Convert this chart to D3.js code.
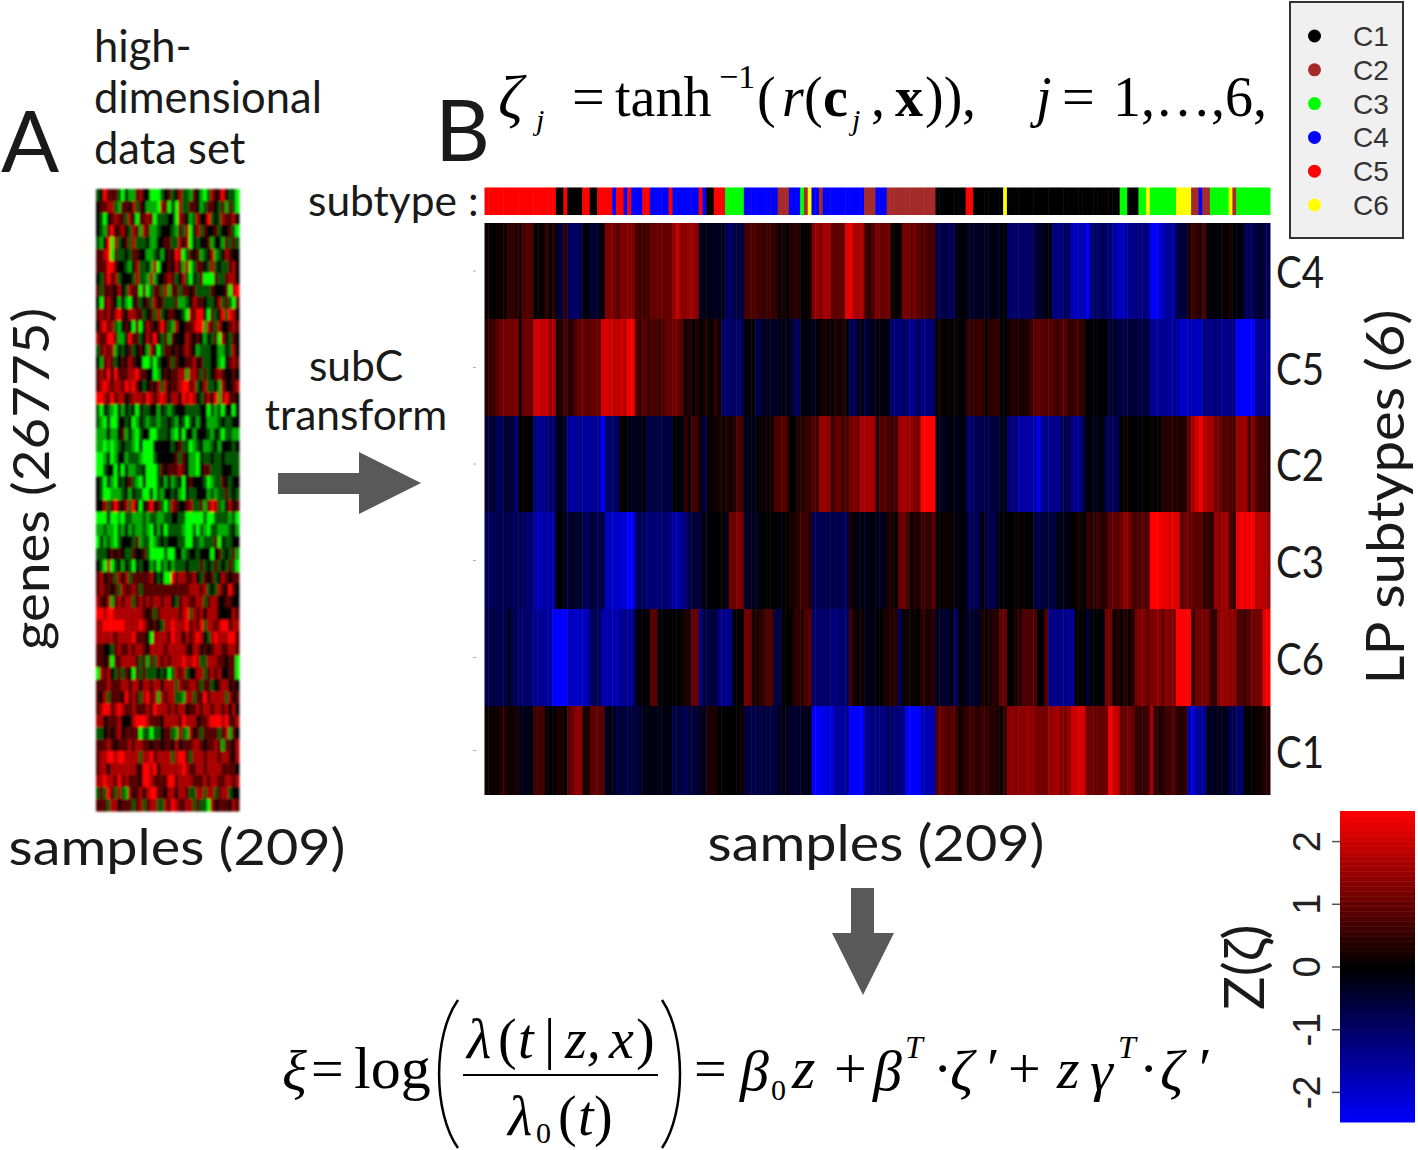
<!DOCTYPE html>
<html>
<head>
<meta charset="utf-8">
<script src="https://cdn.jsdelivr.net/npm/d3@7"></script>
<style>
	body {margin:0; background:#fff;}
	svg {display:block;}
</style>
</head>
<body>
<script>
// row order of the subC heatmap, top to bottom
var heatRows = ["C4","C5","C2","C3","C6","C1"];

// Z(zeta) per sample, ten values on a line
var rowC4 = [
	0.1,0.1,0.0,0.1,0.1,0.1,0.4,0.4,0.3,0.2,
	0.6,0.7,0.6,0.0,0.1,0.0,0.4,0.1,0.3,-0.4,
	-0.5,0.4,-0.7,-0.8,-0.8,-0.6,-0.1,-0.1,-0.4,-0.4,
	-0.2,-0.1,1.0,1.0,0.9,0.7,1.0,1.0,1.0,1.0,
	0.5,0.5,0.5,0.5,0.8,0.8,0.8,0.8,0.8,0.8,
	1.2,1.5,1.1,1.1,1.2,1.2,1.1,-0.2,-0.2,-0.1,
	-0.2,-0.3,-0.2,-0.2,-0.7,-0.8,-0.6,-0.5,-0.5,0.5,
	0.6,0.6,0.5,0.5,0.4,0.5,0.4,0.4,0.1,0.2,
	0.0,0.3,0.3,0.3,0.0,0.0,0.1,1.0,1.2,1.0,
	1.3,1.3,0.8,0.7,0.8,0.8,1.8,1.8,1.3,1.3,
	1.3,0.5,0.4,0.6,1.0,0.8,0.8,0.9,0.1,0.0,
	0.1,0.9,0.9,0.8,0.9,0.7,0.6,0.6,0.5,0.6,
	-0.6,-0.6,-0.5,-0.7,-0.7,-0.2,-0.1,0.0,-0.2,-0.3,
	-0.3,-0.3,-0.2,-0.3,-0.2,-0.1,-0.3,-0.1,0.0,-0.8,
	-0.8,-0.8,-0.8,-0.8,-0.8,-0.8,-0.5,-0.3,-0.3,-0.1,
	-0.1,-1.0,-1.0,-1.0,-0.7,-0.8,-1.5,-1.5,-1.4,-1.4,
	-2.0,-0.9,-0.8,-0.8,-0.7,-0.8,-0.9,-1.2,-1.5,-1.5,
	-1.4,-1.1,-1.1,-1.0,-1.0,-1.0,-1.0,-2.2,-2.2,-1.7,
	-1.5,-1.2,-1.2,-1.2,-0.5,-0.5,-0.5,0.2,0.5,0.4,
	0.2,0.6,0.0,-0.1,0.0,-0.1,0.1,0.0,0.2,0.0,
	-0.1,-0.1,-0.7,-0.7,-0.6,-0.5,-0.3,-0.6,-0.6];
var rowC5 = [
	0.3,0.4,0.5,0.7,0.9,0.9,0.9,0.9,1.0,0.2,
	0.8,0.9,0.8,1.6,1.6,1.5,1.6,1.2,1.3,0.2,
	0.3,0.6,0.3,0.4,0.7,0.8,0.8,0.7,0.8,0.8,
	0.8,1.7,1.7,1.6,1.5,1.5,1.6,1.5,1.9,1.9,
	0.6,0.5,0.7,0.5,0.6,0.5,0.5,0.6,0.8,0.8,
	0.9,0.8,0.7,0.1,0.3,0.0,0.3,0.0,0.2,0.2,
	0.0,0.4,0.1,-0.8,-0.9,-0.8,-0.8,-0.8,-0.7,-0.05,
	-0.1,0.0,-0.6,-0.5,-0.2,-0.3,-0.2,-0.3,-0.2,-0.1,
	-0.2,-0.2,-0.7,-0.7,-0.1,-0.1,-0.1,-0.2,-0.1,0.1,
	0.2,0.1,0.0,0.3,0.1,0.3,0.0,-0.7,-0.7,-0.2,
	-0.2,-0.5,-0.2,-0.3,-0.1,-0.1,-0.1,-0.2,-0.9,-0.9,
	-1.0,-0.7,-0.9,-1.1,-1.0,-0.7,-1.0,-1.0,-0.9,-0.8,
	0.1,0.1,0.0,0.1,-0.05,0.1,0.0,0.0,0.4,0.4,
	0.4,0.5,0.4,0.1,0.3,0.4,0.4,0.05,0.0,0.1,
	0.3,0.2,0.2,0.2,0.2,0.5,0.7,0.8,0.7,0.6,
	0.7,0.6,0.5,0.6,0.7,0.4,0.4,0.6,0.4,0.3,
	-0.05,-0.05,-0.1,-0.05,0.0,-0.1,-0.5,-0.3,-0.5,-0.5,
	-0.5,-0.5,-0.4,-0.5,-0.5,-0.5,-0.5,-1.2,-1.2,-1.2,
	-1.1,-1.2,-1.2,-1.2,-1.3,-1.6,-1.5,-1.5,-1.4,-1.5,
	-1.5,-1.0,-1.0,-1.1,-0.9,-1.0,-1.2,-1.0,-1.0,-1.1,
	-2.2,-2.2,-2.3,-2.2,-2.2,-1.2,-1.2,-1.1,-1.3];
var rowC2 = [
	-0.4,-0.4,-0.4,-0.7,-0.7,-0.4,-0.4,-0.5,-0.9,0.0,
	0.0,0.0,0.0,-1.0,-1.1,-1.1,-1.0,-0.9,-0.8,-0.2,
	-0.1,-0.4,-1.2,-1.3,-1.2,-1.1,-1.2,-1.3,-1.2,-1.1,
	-1.2,-2.0,-0.8,-0.8,-0.8,-0.7,0.1,0.0,-0.2,-0.2,
	-0.2,-0.2,-0.1,-0.5,-0.6,-0.5,-0.6,-0.5,-0.5,-0.5,
	-0.05,-0.05,-0.1,0.4,0.1,0.5,0.5,-0.1,-0.5,-0.1,
	0.1,0.1,0.2,0.1,0.3,0.1,0.3,0.6,0.5,-0.2,
	-0.2,-0.2,-0.1,0.1,0.1,0.1,0.1,0.6,0.6,0.7,
	0.5,0.0,0.0,0.3,0.3,0.4,0.4,0.7,0.5,1.2,
	1.2,1.1,0.5,0.7,0.8,0.5,0.6,0.9,1.0,0.9,
	1.3,1.3,1.3,1.3,0.3,0.6,0.7,0.5,0.5,0.5,
	1.2,1.3,1.2,1.2,1.0,0.9,2.3,2.4,2.4,2.3,
	-0.2,-0.2,-0.2,-0.1,-0.1,-0.2,-0.1,-0.1,-0.7,-0.8,
	-0.7,-0.6,-0.7,-0.5,-0.6,-0.5,-0.4,-0.3,-0.1,-0.9,
	-1.0,-0.9,-1.3,-1.3,-1.3,-1.3,-1.3,-1.9,-1.1,-1.1,
	-1.1,-1.1,-1.2,-0.7,-0.6,-0.6,-1.0,-1.2,-1.0,-0.5,
	-0.1,-0.1,-0.2,-0.1,-0.1,-0.6,-0.7,-0.7,-0.6,0.05,
	0.1,0.05,0.0,-0.05,-0.1,-0.05,0.0,0.1,0.05,0.0,
	0.3,0.3,0.3,0.3,0.3,0.2,0.3,0.8,1.3,1.6,
	1.9,1.4,1.3,1.3,0.9,0.9,0.6,0.7,0.6,0.6,
	1.2,1.2,1.3,0.6,1.0,0.6,0.5,0.5,0.4];
var rowC3 = [
	-0.7,-0.7,-0.7,-0.6,-0.7,-0.6,-0.6,-0.7,-0.7,-0.7,
	-0.7,-1.0,-0.8,-1.3,-1.4,-1.4,-1.3,-1.3,-1.2,0.0,
	0.0,-0.3,-0.4,-0.2,-0.4,-0.3,-0.6,-0.7,-0.5,-0.5,
	-0.6,-0.5,-1.5,-1.5,-1.6,-1.5,-1.7,-1.7,-2.4,-2.4,
	-0.7,-0.7,-0.7,-1.0,-0.9,-0.9,-0.9,-0.9,-0.9,-1.0,
	-1.3,-1.3,-1.2,-0.9,-0.6,-0.5,-0.4,-0.4,-0.1,-0.1,
	-0.05,-0.1,-0.05,-0.05,-0.2,0.9,0.8,1.0,0.9,-0.3,
	-0.3,-0.2,-0.3,-0.05,-0.05,-0.05,0.0,-0.05,-0.1,-0.05,
	-0.05,0.2,0.2,0.3,0.5,0.5,0.3,-0.6,-0.7,-0.6,
	-0.6,-0.7,-0.5,-0.7,-0.6,-0.7,-0.6,0.2,-0.1,-0.2,
	-0.1,-0.2,-0.1,-0.1,-0.2,-0.2,-0.2,0.2,0.2,0.0,
	0.8,0.9,0.6,0.1,0.3,0.2,0.5,0.4,0.4,0.8,
	0.0,0.0,0.1,0.1,0.1,-0.1,-0.1,-0.05,-0.5,-0.6,
	-0.7,-0.6,0.0,-0.5,-0.6,-0.6,-0.3,-0.05,0.05,0.0,
	0.0,0.1,0.0,0.1,0.05,0.0,-0.5,-0.6,-0.5,-0.4,
	-0.5,-0.5,-0.2,-0.1,-0.2,-0.1,-0.05,0.1,0.1,-0.05,
	0.4,0.3,0.4,0.4,0.3,0.4,0.7,0.8,0.7,0.9,
	1.1,1.0,0.6,0.6,0.6,0.7,0.6,2.4,2.4,2.4,
	1.8,1.8,1.7,1.8,1.7,0.7,0.9,0.8,0.8,0.7,
	0.7,0.4,0.4,0.3,1.2,1.1,1.2,1.3,0.6,0.4,
	1.9,2.0,1.9,1.9,1.9,1.4,1.5,1.4,1.3];
var rowC6 = [
	-0.6,-0.6,-0.5,-0.6,-0.6,-0.6,-0.2,-0.6,-0.7,-0.8,
	-0.9,-0.8,-0.9,-1.2,-1.2,-1.1,-1.3,-1.2,-2.0,-2.1,
	-2.0,-2.3,-1.5,-1.5,-1.6,-1.5,-1.5,-1.4,-0.7,-0.7,
	-0.7,-1.3,-1.4,-1.3,-1.4,-1.3,-1.2,-1.1,-1.2,-1.1,
	-0.1,-0.1,-0.05,-0.05,0.7,0.7,-0.05,-0.1,-0.05,0.05,
	0.05,0.05,0.1,0.2,0.2,0.8,0.8,-1.0,-0.5,-0.5,
	-0.5,-0.5,-1.0,-1.1,-1.1,-1.0,0.0,0.0,0.0,0.9,
	0.9,0.2,0.2,0.3,0.5,0.6,0.5,-0.5,-0.6,-0.05,
	0.0,-0.05,0.3,0.4,0.3,0.6,0.7,-0.8,-0.8,-0.9,
	-0.8,-0.8,-0.9,-1.0,-0.9,-0.8,-0.9,0.5,0.1,0.1,
	0.1,-0.2,-0.1,-0.2,0.0,0.0,0.2,0.2,0.3,0.3,
	-0.7,0.1,0.1,0.1,0.1,0.05,0.4,0.2,0.2,0.3,
	-0.3,-0.3,-0.4,-0.3,-0.2,-0.8,-0.1,-0.1,-0.3,-0.4,
	-0.3,-0.3,0.2,0.1,0.2,0.3,0.3,0.8,0.8,0.0,
	0.0,0.3,0.3,0.6,0.6,0.6,0.6,0.0,0.0,0.7,
	-1.1,-1.1,-1.0,-1.1,-1.0,-1.1,-1.2,-0.05,-0.05,-0.05,
	-0.4,-0.1,-0.05,-0.05,-0.1,0.9,0.9,0.1,0.3,0.1,
	0.3,0.1,0.3,0.9,1.0,1.0,0.8,1.0,1.0,1.1,
	0.8,1.1,1.0,1.0,2.5,2.5,2.5,2.5,0.4,0.9,
	0.9,0.9,0.9,0.4,0.4,1.1,1.2,1.2,1.1,1.1,
	0.6,0.6,0.5,0.7,0.9,0.9,0.9,1.8,1.9];
var rowC1 = [
	0.1,0.1,0.1,0.1,0.3,0.3,0.1,0.1,0.2,-0.2,
	-0.2,-0.2,-0.1,0.5,0.5,0.5,0.1,0.0,0.0,0.2,
	0.2,0.0,0.7,0.9,1.1,1.1,0.2,0.2,0.7,0.8,
	0.7,0.7,-0.3,-0.1,-0.3,-0.5,-0.4,-0.5,-0.5,-0.5,
	-0.5,-0.3,-0.2,-0.1,-0.2,-0.1,-0.2,-0.1,-0.2,-0.1,
	-0.6,-0.5,-0.5,-0.7,-0.5,-0.4,-0.5,-0.2,-0.2,0.2,
	0.2,0.2,0.0,0.0,0.0,0.0,0.0,0.05,0.1,-0.5,
	-0.5,-0.6,-0.5,-0.6,-0.5,-0.5,-0.5,-0.5,-0.2,-0.2,
	-0.1,-0.4,-0.4,-0.3,-0.3,-0.2,-0.1,-1.9,-2.0,-1.9,
	-1.8,-1.7,-1.7,-1.2,-1.3,-1.2,-1.2,-2.2,-2.3,-2.2,
	-2.1,-1.1,-1.0,-1.0,-1.0,-1.0,-1.0,-0.7,-0.9,-0.9,
	-1.0,-1.0,-2.2,-2.3,-2.3,-2.0,-1.5,-1.4,-1.4,-1.3,
	0.7,0.8,0.7,0.6,0.7,0.5,0.1,0.3,0.4,0.5,
	0.4,0.3,0.5,0.4,0.3,0.3,0.2,0.1,0.4,1.1,
	1.1,1.0,1.1,1.1,1.2,1.1,1.0,0.9,0.9,0.9,
	1.2,1.2,1.3,1.0,1.0,1.1,1.6,1.6,1.7,1.6,
	0.8,0.9,0.8,0.8,0.8,0.9,2.5,1.6,1.5,0.8,
	0.8,0.9,0.8,0.4,0.4,0.4,0.5,1.3,0.3,0.3,
	0.3,0.5,0.5,0.6,0.3,0.3,0.4,-1.3,-1.8,-1.2,
	-1.2,-1.2,-0.2,-0.3,-0.2,-0.2,-0.2,-0.2,-0.7,-0.6,
	-0.8,-0.9,0.05,0.05,0.0,0.1,0.1,0.2,0.3];

// subtype bar, number of the LP subtype per sample
var subtype = [
	5,5,5,5,5,5,5,5,5,5,
	5,5,5,5,5,5,5,5,5,1,
	1,5,1,1,1,1,5,5,1,1,
	5,5,5,5,4,5,5,4,5,4,
	4,4,5,5,4,4,4,4,4,5,
	4,4,4,4,4,4,4,5,4,1,
	1,5,5,5,3,3,3,3,3,4,
	4,4,4,4,4,4,4,4,2,2,
	2,4,4,4,3,2,6,4,4,2,
	4,4,4,4,4,4,4,4,4,4,
	4,2,2,2,4,4,4,2,2,2,
	2,2,2,2,2,2,2,2,2,2,
	1,1,1,1,1,1,1,1,5,5,
	1,1,1,1,1,1,1,1,6,1,
	1,1,1,1,1,1,1,1,1,1,
	1,1,1,1,1,1,1,1,1,1,
	1,1,1,1,1,1,1,1,1,3,
	3,1,1,1,3,3,6,3,3,3,
	3,3,3,3,6,6,6,6,2,2,
	4,2,2,3,3,3,3,3,6,2,
	3,3,3,3,3,3,3,3,3];

var legendNames = ["C1","C2","C3","C4","C5","C6"];
var legendColors = ["#000000","#a52a2a","#00ff00","#0000ff","#ff0000","#ffff00"];
var barTicks = [-2,-1,0,1,2];

// left heatmap, level per cell: 1 bright green, 4 black, 7 bright red
var geneRows = [
	"3475553142 2564411134 5346332542 1364574331",
	"4556632554 6354222165 1416335542 3554352531",
	"4314565536 4155651333 4416542364 4734365564",
	"4325745643 6526522344 4325361463 5445344531",
	"3247163453 6333422445 5336461434 4524425353",
	"5567153343 5544223424 5476135452 3462346544",
	"5557754432 4633426144 5465261355 4363433564",
	"4357563444 3633262445 6534631435 1115335664",
	"5355546436 5515135536 2553554533 3354445167",
	"4156542421 4534536453 3352234655 4334635315",
	"5656467546 6553453634 5544316577 4153473764",
	"4675632454 1514654575 3264455677 2653644565",
	"6557752247 5534657435 2544465454 2435164354",
	"3565624345 3454264135 5454565423 3344224364",
	"4256534546 5441131344 5354455645 3344214565",
	"5657475556 6755441245 4556626653 5345654454",
	"5676566576 7543454636 4556775634 6334264456",
	"7765756645 6665765676 4664767643 5647267554",
	"3143214243 4143344243 2344433334 4132314414",
	"3214114434 1243233233 4324313424 4222343344",
	"2224224524 2134411333 4214144244 4324313322",
	"2212123433 2141114444 4345331234 2234244434",
	"1124124423 3321113444 4453542214 3343343333",
	"1134414142 2334111354 5556542214 5533344433",
	"4314214345 3214111342 4234145444 3123354344",
	"4311222342 4331141324 4342143344 4232335343",
	"4463575463 7414574531 3654456335 2576324645",
	"1114112133 2223233223 3443311111 3113333231",
	"2232213242 3223214241 3333211313 2133222342",
	"1423213444 3523312343 4443311432 3335143344",
	"3334545433 5445311113 1144234434 4414534352",
	"4316134243 1434423132 4233343335 3435343531",
	"5645536463 5555564341 1756655643 5453465455",
	"5655453655 6535555555 5555556665 6343654754",
	"6546256566 3565656656 6435665566 3566445544",
	"7767766666 6665453566 6665673656 4666444465",
	"6677777766 6676545436 6766675657 3665677566",
	"6666656666 7555416666 5766465676 4367666775",
	"5544356556 5665466665 6666654664 5456655665",
	"5545155666 6535253656 5666766763 3666554551",
	"1656435354 1535333434 1365634466 3565644551",
	"5556555665 6646656646 6636556653 5534566454",
	"5463555475 6536756265 6633266355 7566663645",
	"5677567655 6555657666 5656645565 6656656464",
	"6645556444 6777655546 6665766645 5677767556",
	"3345456455 5513313345 5326326453 5555356254",
	"5556545556 5665545545 5464555665 4556525546",
	"5667767766 6636675666 6367753666 5666566546",
	"5664666666 6547767466 6666765566 5666655554",
	"6676657565 5547765555 7756666555 6566556656",
	"3537536326 4564677554 6646653366 3663566344",
	"5553664555 3563566336 5765566353 3164555465"
];

var rowValues = {C4:rowC4, C5:rowC5, C2:rowC2, C3:rowC3, C6:rowC6, C1:rowC1};

// the row values were read a bit low against the colour bar
var readGain = 1.25;

var svg = d3.select("body").append("svg")
	.attr("width",1418)
	.attr("height",1150);

var defs = svg.append("defs");
defs.append("filter")
	.attr("id","soft")
	.attr("x","-2%").attr("y","-2%").attr("width","104%").attr("height","104%")
	.append("feGaussianBlur")
	.attr("stdDeviation",0.7);
defs.append("filter")
	.attr("id","softer")
	.attr("x","-2%").attr("y","-2%").attr("width","104%").attr("height","104%")
	.append("feGaussianBlur")
	.attr("stdDeviation",1);

function put(str,x,y,size,opts) {
	opts = opts || {};
	var t = svg.append("text")
		.attr("x",x)
		.attr("y",y)
		.style("font-family",opts.font || "Lato")
		.style("font-size",size+"px")
		.style("fill",opts.fill || "#1a1a1a")
		.text(str);
	if (opts.anchor) {t.attr("text-anchor",opts.anchor);}
	if (opts.italic) {t.style("font-style","italic");}
	if (opts.bold) {t.style("font-weight","bold");}
	if (opts.rotate) {t.attr("transform","rotate(-90,"+x+","+y+")");}
	if (opts.fit) {t.attr("textLength",opts.fit).attr("lengthAdjust","spacingAndGlyphs");}
	return t;
}

//---left heatmap---
var geneGrid = geneRows.map(function(r){return r.replace(/ /g,"").split("").map(Number);});
var geneX = d3.scaleBand().domain(d3.range(40)).range([96,239]);
var geneY = d3.scaleBand().domain(d3.range(geneGrid.length)).range([189,811]);
var geneColor = d3.scaleLinear().domain([1,4,7]).range(["#00ff00","#000000","#ff0000"]);

svg.append("g")
	.attr("filter","url(#softer)")
	.selectAll("g")
	.data(geneGrid)
	.join("g")
	.attr("transform",function(d,i){return "translate(0,"+geneY(i)+")";})
	.selectAll("rect")
	.data(function(d){return d;})
	.join("rect")
	.attr("x",function(d,i){return geneX(i);})
	.attr("width",geneX.bandwidth()+0.5)
	.attr("height",geneY.bandwidth()+0.5)
	.style("fill",function(d){return geneColor(d);});

//---subC heatmap---
var sampleX = d3.scaleBand().domain(d3.range(209)).range([484.5,1270]);
var rowTop = d3.scaleOrdinal().domain(heatRows).range([223,319,416,512,609,706]);
var rowBottom = d3.scaleOrdinal().domain(heatRows).range([319,416,512,609,706,795]);
var zColor = d3.scaleLinear().domain([-2.5,0,2.5]).range(["#0000ff","#000000","#ff0000"]).clamp(true);

svg.append("g")
	.attr("filter","url(#soft)")
	.selectAll("g")
	.data(heatRows)
	.join("g")
	.selectAll("rect")
	.data(function(name){
		return rowValues[name].map(function(v,i){return {name:name,v:v,i:i};});
	})
	.join("rect")
	.attr("x",function(d){return sampleX(d.i);})
	.attr("y",function(d){return rowTop(d.name);})
	.attr("width",sampleX.bandwidth()+0.5)
	.attr("height",function(d){return rowBottom(d.name)-rowTop(d.name);})
	.style("fill",function(d){return zColor(d.v*readGain);});

// subtype strip
svg.append("g")
	.attr("filter","url(#soft)")
	.selectAll("rect")
	.data(subtype)
	.join("rect")
	.attr("x",function(d,i){return sampleX(i);})
	.attr("y",187.5)
	.attr("width",sampleX.bandwidth()+0.5)
	.attr("height",27.5)
	.style("fill",function(d){return legendColors[d-1];});

// tiny ticks left of the heatmap
svg.append("g")
	.selectAll("line")
	.data(heatRows)
	.join("line")
	.attr("x1",473)
	.attr("x2",476)
	.attr("y1",function(d){return (rowTop(d)+rowBottom(d))/2;})
	.attr("y2",function(d){return (rowTop(d)+rowBottom(d))/2;})
	.style("stroke","#aaaaaa");

svg.append("g")
	.selectAll("text")
	.data(heatRows)
	.join("text")
	.attr("x",1276)
	.attr("y",function(d){return (rowTop(d)+rowBottom(d))/2 + 17;})
	.attr("textLength",48)
	.attr("lengthAdjust","spacingAndGlyphs")
	.style("font-family","Lato")
	.style("font-size","44px")
	.style("fill","#1a1a1a")
	.text(function(d){return d;});

//---legend---
svg.append("rect")
	.attr("x",1290)
	.attr("y",2)
	.attr("width",113)
	.attr("height",236)
	.style("fill","#f0f0f0")
	.style("stroke","#333333")
	.style("stroke-width",2);

var legendY = d3.scalePoint().domain(legendNames).range([36,205]);

svg.append("g")
	.selectAll("circle")
	.data(legendNames)
	.join("circle")
	.attr("cx",1314.5)
	.attr("cy",function(d){return legendY(d);})
	.attr("r",6.5)
	.style("fill",function(d,i){return legendColors[i];});

svg.append("g")
	.selectAll("text")
	.data(legendNames)
	.join("text")
	.attr("x",1353)
	.attr("y",function(d){return legendY(d)+10;})
	.style("font-family","Liberation Sans")
	.style("font-size","28px")
	.style("fill","#333333")
	.text(function(d){return d;});

//---colour bar---
var barY = d3.scaleLinear().domain([-2.48,2.48]).range([1122,811]);
var barSteps = d3.range(-2.48,2.48,0.08);

svg.append("g")
	.selectAll("rect")
	.data(barSteps)
	.join("rect")
	.attr("x",1340)
	.attr("y",function(d){return barY(d+0.08);})
	.attr("width",75)
	.attr("height",barY(0)-barY(0.08)+0.5)
	.style("fill",function(d){return zColor(d+0.04);});

var barAxis = d3.axisLeft(barY).tickValues(barTicks).tickSize(8).tickFormat(function(d){return String(d);});
var barG = svg.append("g")
	.attr("transform","translate(1340,0)")
	.call(barAxis);
barG.select(".domain").remove();
barG.selectAll("line").style("stroke","#555555").style("stroke-width",1.5);
barG.selectAll("text")
	.attr("x",-20)
	.attr("y",0)
	.attr("dy",0)
	.attr("transform","rotate(-90,-20,0)")
	.attr("text-anchor","middle")
	.style("font-family","Liberation Sans")
	.style("font-size","38px")
	.style("fill","#222222");

put("Z(ζ)",1264,1010,56,{rotate:true});

//---arrows---
var arrowLine = d3.line();
svg.append("path")
	.attr("d",arrowLine([[278,473],[359,473],[359,452],[421,483],[359,514],[359,494],[278,494]])+"Z")
	.style("fill","#595959");
svg.append("path")
	.attr("d",arrowLine([[851,888],[874,888],[874,933],[894,933],[863,995],[832,933],[851,933]])+"Z")
	.style("fill","#595959");

//---plain labels---
put("A",1,172,86);
put("B",435,161,85);
put("high-",94,62,43.5);
put("dimensional",94,113,43.5);
put("data set",94,164,43.5);
put("subtype :",308,216,42.5);
put("subC",356,381,42.5,{anchor:"middle"});
put("transform",356,430,42.5,{anchor:"middle"});
put("samples (209)",177,865,51,{anchor:"middle",fit:337});
put("samples (209)",876,861,51,{anchor:"middle",fit:337});
put("genes (26775)",49,479,51,{rotate:true,anchor:"middle",fit:342});
put("LP subtypes (6)",1404,497,52,{rotate:true,anchor:"middle",fit:375});

//---top equation---
var serif = "Liberation Serif";
put("ζ",498,118,62,{font:serif,italic:true,fill:"#000"});
put("j",536,130,30,{font:serif,italic:true,fill:"#000"});
put("=",572,116,58,{font:serif,fill:"#000"});
put("tanh",615,116,56,{font:serif,fill:"#000"});
put("−1",719,88,34,{font:serif,fill:"#000"});
put("(",757,116,56,{font:serif,fill:"#000"});
put("r",782,116,56,{font:serif,italic:true,fill:"#000"});
put("(",804,116,56,{font:serif,fill:"#000"});
put("c",823,116,56,{font:serif,bold:true,fill:"#000"});
put("j",852,130,30,{font:serif,italic:true,fill:"#000"});
put(",",871,116,56,{font:serif,fill:"#000"});
put("x",895,116,56,{font:serif,bold:true,fill:"#000"});
put("))",925,116,56,{font:serif,fill:"#000"});
put(",",962,116,56,{font:serif,fill:"#000"});
put("j",1036,116,56,{font:serif,italic:true,fill:"#000"});
put("=",1062,116,58,{font:serif,fill:"#000"});
put("1,…,6,",1113,116,56,{font:serif,fill:"#000"});

//---bottom equation---
put("ξ",282,1090,58,{font:serif,italic:true,fill:"#000"});
put("=",311,1088,58,{font:serif,fill:"#000"});
put("log",354,1088,60,{font:serif,fill:"#000"});
put("λ",467,1058,56,{font:serif,italic:true,fill:"#000"});
put("(",498,1058,56,{font:serif,fill:"#000"});
put("t",518,1058,56,{font:serif,italic:true,fill:"#000"});
put("|",544,1058,56,{font:serif,fill:"#000"});
put("z,",565,1058,56,{font:serif,italic:true,fill:"#000"});
put("x",609,1058,56,{font:serif,italic:true,fill:"#000"});
put(")",636,1058,56,{font:serif,fill:"#000"});
put("λ",508,1135,56,{font:serif,italic:true,fill:"#000"});
put("0",536,1143,30,{font:serif,fill:"#000"});
put("(",558,1135,56,{font:serif,fill:"#000"});
put("t",578,1135,56,{font:serif,italic:true,fill:"#000"});
put(")",594,1135,56,{font:serif,fill:"#000"});
put("=",694,1088,58,{font:serif,fill:"#000"});
put("β",740,1090,58,{font:serif,italic:true,fill:"#000"});
put("0",771,1100,30,{font:serif,fill:"#000"});
put("z",792,1088,60,{font:serif,italic:true,fill:"#000"});
put("+",834,1088,58,{font:serif,fill:"#000"});
put("β",873,1090,58,{font:serif,italic:true,fill:"#000"});
put("T",905,1058,32,{font:serif,italic:true,fill:"#000"});
put("·",933,1088,58,{font:serif,fill:"#000"});
put("ζ",950,1090,58,{font:serif,italic:true,fill:"#000"});
put("′",987,1088,58,{font:serif,fill:"#000"});
put("+",1008,1088,58,{font:serif,fill:"#000"});
put("z",1057,1088,58,{font:serif,italic:true,fill:"#000"});
put("γ",1090,1090,58,{font:serif,italic:true,fill:"#000"});
put("T",1118,1058,32,{font:serif,italic:true,fill:"#000"});
put("·",1139,1088,58,{font:serif,fill:"#000"});
put("ζ",1160,1090,58,{font:serif,italic:true,fill:"#000"});
put("′",1199,1088,58,{font:serif,fill:"#000"});

// fraction bar and the tall brackets
svg.append("line")
	.attr("x1",463).attr("x2",658)
	.attr("y1",1075).attr("y2",1075)
	.style("stroke","#000")
	.style("stroke-width",2);

function bracket(xOuter,xInner) {
	var p = d3.path();
	p.moveTo(xInner,1000);
	p.bezierCurveTo(xOuter-(xInner-xOuter)*0.2,1035,xOuter-(xInner-xOuter)*0.2,1113,xInner,1148);
	return p.toString();
}
svg.selectAll("path.bracket")
	.data([[437,458],[682,662]])
	.join("path")
	.attr("class","bracket")
	.attr("d",function(d){return bracket(d[0],d[1]);})
	.style("fill","none")
	.style("stroke","#000")
	.style("stroke-width",2.5);
</script>
</body>
</html>
